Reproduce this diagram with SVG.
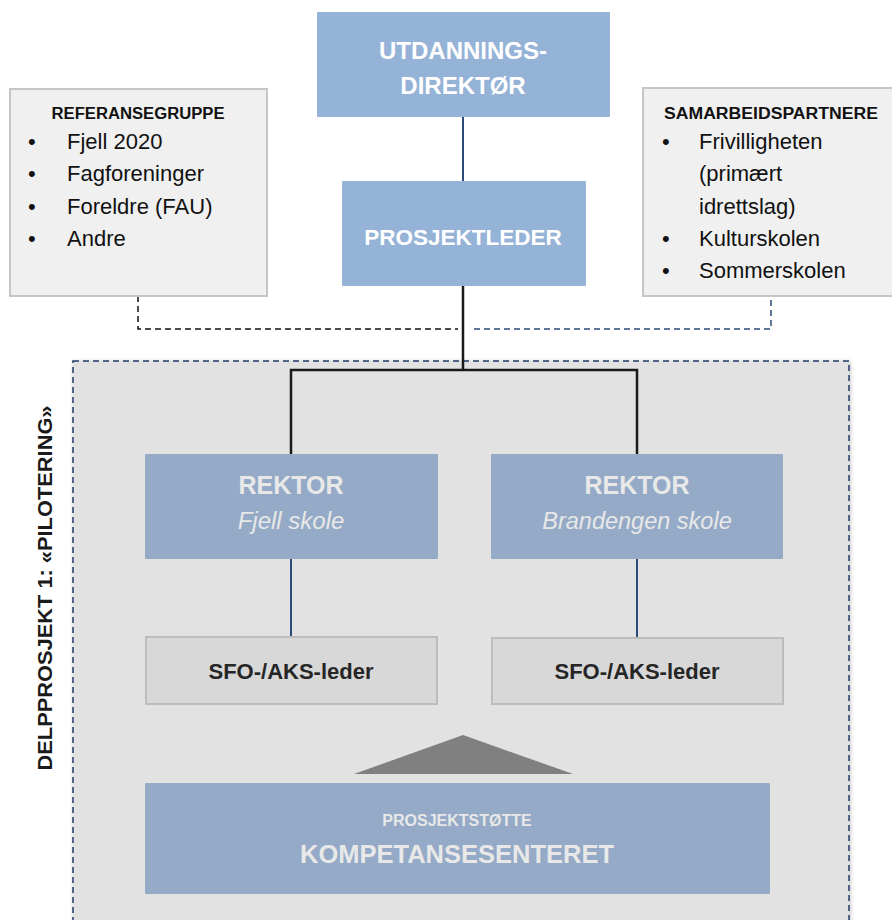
<svg xmlns="http://www.w3.org/2000/svg" width="892" height="920" viewBox="0 0 892 920">
<defs>
<style>
.top{fill:#95b3d7}
.side{fill:#f0f0f0;stroke:#c6c6c6;stroke-width:2}
.rek{fill:#94aac6}
.sfo{fill:#d8d8d8;stroke:#bdbdbd;stroke-width:2}
.tw{font-family:"Liberation Sans",Arial,sans-serif;font-weight:bold;fill:#ffffff;text-anchor:middle}
.tl{font-family:"Liberation Sans",Arial,sans-serif;fill:#e8e8e8;text-anchor:middle}
.hd{font-family:"Liberation Sans",Arial,sans-serif;font-weight:bold;font-size:16px;fill:#111}
.li{font-family:"Liberation Sans",Arial,sans-serif;font-size:22px;fill:#111}
.sf{font-family:"Liberation Sans",Arial,sans-serif;font-weight:bold;font-size:22px;fill:#262626;text-anchor:middle}
.blue{stroke:#2c4a78;stroke-width:2;fill:none}
.blk{stroke:#1a1a1a;stroke-width:2.5;fill:none}
</style>
<filter id="sh" x="-5%" y="-5%" width="110%" height="110%">
<feGaussianBlur in="SourceAlpha" stdDeviation="2"/>
<feOffset dx="1" dy="1"/>
<feComponentTransfer><feFuncA type="linear" slope="0.25"/></feComponentTransfer>
<feMerge><feMergeNode/><feMergeNode in="SourceGraphic"/></feMerge>
</filter>
</defs>
<rect width="892" height="920" fill="#ffffff"/>

<g id="pilot">
<rect x="73" y="361" width="776" height="570" fill="#e2e2e2" stroke="#1f3a64" stroke-width="1.5" stroke-dasharray="6,4" filter="url(#sh)"/>
<text transform="translate(52,588) rotate(-90)" text-anchor="middle" font-family="Liberation Sans,Arial,sans-serif" font-weight="bold" font-size="20" fill="#1a1a1a" textLength="365" lengthAdjust="spacingAndGlyphs">DELPPROSJEKT 1: «PILOTERING»</text>
</g>

<g id="connectors">
<line class="blue" x1="463" y1="117" x2="463" y2="181"/>
<polyline class="blk" points="463,286 463,370"/>
<polyline class="blk" points="291,455 291,370 637,370 637,455"/>
<line class="blue" x1="291" y1="559" x2="291" y2="637"/>
<line class="blue" x1="637" y1="559" x2="637" y2="637"/>
<polyline points="138,296 138,329 458,329" fill="none" stroke="#111" stroke-width="1.5" stroke-dasharray="6,4"/>
<polyline points="474,329 771,329 771,296" fill="none" stroke="#2c4a78" stroke-width="1.5" stroke-dasharray="6,4"/>
</g>

<g id="utdanningsdirektor">
<rect class="top" x="317" y="12" width="293" height="105" rx="1"/>
<text class="tw" x="463" y="59" font-size="24">UTDANNINGS-</text>
<text class="tw" x="463" y="94" font-size="24">DIREKTØR</text>
</g>

<g id="prosjektleder">
<rect class="top" x="342" y="181" width="244" height="105" rx="1"/>
<text class="tw" x="463" y="245" font-size="22.5">PROSJEKTLEDER</text>
</g>

<g id="referansegruppe">
<rect class="side" x="10" y="89" width="257" height="207"/>
<text class="hd" x="138" y="119" text-anchor="middle" textLength="173" lengthAdjust="spacingAndGlyphs">REFERANSEGRUPPE</text>
<text class="li" x="28" y="149">•</text><text class="li" x="67" y="149">Fjell 2020</text>
<text class="li" x="28" y="181">•</text><text class="li" x="67" y="181">Fagforeninger</text>
<text class="li" x="28" y="214">•</text><text class="li" x="67" y="214">Foreldre (FAU)</text>
<text class="li" x="28" y="246">•</text><text class="li" x="67" y="246">Andre</text>
</g>

<g id="samarbeidspartnere">
<rect class="side" x="643" y="88" width="260" height="208"/>
<text class="hd" x="771" y="119" text-anchor="middle" textLength="214" lengthAdjust="spacingAndGlyphs">SAMARBEIDSPARTNERE</text>
<text class="li" x="662" y="149">•</text><text class="li" x="699" y="149">Frivilligheten</text>
<text class="li" x="699" y="181">(primært</text>
<text class="li" x="699" y="214">idrettslag)</text>
<text class="li" x="662" y="246">•</text><text class="li" x="699" y="246">Kulturskolen</text>
<text class="li" x="662" y="278">•</text><text class="li" x="699" y="278">Sommerskolen</text>
</g>

<g id="rektor-fjell">
<rect class="rek" x="145" y="454" width="293" height="105" rx="1"/>
<text class="tl" x="291" y="494" font-size="25" font-weight="bold">REKTOR</text>
<text class="tl" x="291" y="529" font-size="24" font-style="italic">Fjell skole</text>
</g>

<g id="rektor-brandengen">
<rect class="rek" x="491" y="454" width="292" height="105" rx="1"/>
<text class="tl" x="637" y="494" font-size="25" font-weight="bold">REKTOR</text>
<text class="tl" x="637" y="529" font-size="23.5" font-style="italic">Brandengen skole</text>
</g>

<g id="sfo-fjell">
<rect class="sfo" x="146" y="637" width="291" height="67"/>
<text class="sf" x="291" y="679">SFO-/AKS-leder</text>
</g>

<g id="sfo-brandengen">
<rect class="sfo" x="492" y="638" width="291" height="66"/>
<text class="sf" x="637" y="679">SFO-/AKS-leder</text>
</g>

<g id="triangle">
<polygon points="463,735 573,774 354,774" fill="#808080"/>
</g>

<g id="kompetansesenteret">
<rect class="rek" x="145" y="783" width="625" height="111" rx="1"/>
<text class="tl" x="457" y="826" font-size="16" font-weight="bold">PROSJEKTSTØTTE</text>
<text class="tl" x="457" y="863" font-size="25.5" font-weight="bold">KOMPETANSESENTERET</text>
</g>
</svg>
